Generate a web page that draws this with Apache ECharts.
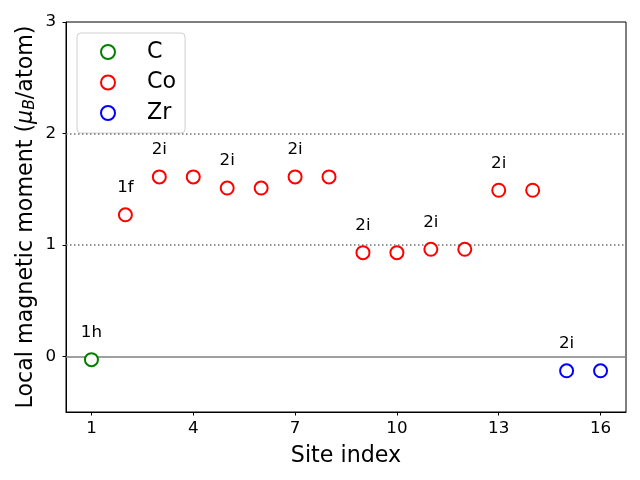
<!DOCTYPE html>
<html>
<head>
<meta charset="utf-8">
<script src="https://cdn.jsdelivr.net/npm/echarts@6/dist/echarts.min.js"></script>
<style>html,body{margin:0;padding:0;background:#fff}#c{width:640px;height:480px}</style>
</head>
<body>
<div id="c"></div>
<script>
var siteIndex = [1, 2, 3, 4, 5, 6, 7, 8, 9, 10, 11, 12, 13, 14, 15, 16];
var moments = [-0.03, 1.27, 1.61, 1.61, 1.51, 1.51, 1.61, 1.61, 0.93, 0.93, 0.96, 0.96, 1.49, 1.49, -0.13, -0.13];
var elements = ['C', 'Co', 'Co', 'Co', 'Co', 'Co', 'Co', 'Co', 'Co', 'Co', 'Co', 'Co', 'Co', 'Co', 'Zr', 'Zr'];
var siteLabels = ['1h', '1f', '2i', '', '2i', '', '2i', '', '2i', '', '2i', '', '2i', '', '2i', ''];
var elementNames = ['C', 'Co', 'Zr'];
var elementColors = ['#008000', '#ff0000', '#0000ff'];
var xTicks = [1, 4, 7, 10, 13, 16];
var yTicks = [0, 1, 2, 3];
var refLines = [1, 2];

var FONT = 'DejaVu Sans';
var SMALL = 16.7, BIG = 22.2;
var chart = echarts.init(document.getElementById('c'), null, {renderer: 'canvas'});

var series = elementNames.map(function (el, k) {
  var data = [];
  for (var i = 0; i < siteIndex.length; i++) {
    if (elements[i] !== el) continue;
    var item = {value: [siteIndex[i], moments[i]]};
    if (siteLabels[i]) {
      item.label = {show: true, formatter: siteLabels[i], position: 'top', distance: 11,
        fontFamily: FONT, fontSize: SMALL, color: '#000'};
    }
    data.push(item);
  }
  var s = {
    name: el, type: 'scatter', data: data, symbol: 'emptyCircle', symbolSize: 13,
    itemStyle: {color: elementColors[k], borderColor: elementColors[k], borderWidth: 1.2, opacity: 1},
    emphasis: {disabled: true}, z: 5
  };
  if (k === 0) {
    s.markLine = {
      silent: true, symbol: ['none', 'none'], label: {show: false},
      data: [{yAxis: 0, lineStyle: {color: '#808080', type: 'solid', width: 1.5}}].concat(
        refLines.map(function (v) { return {yAxis: v, lineStyle: {color: '#707070', type: [1.5, 2.5], width: 1.6}}; })
      )
    };
  }
  return s;
});

chart.setOption({
  animation: false,
  backgroundColor: '#fff',
  grid: {left: 66, right: 14, top: 22, bottom: 68, show: true, borderColor: '#000', borderWidth: 1, backgroundColor: 'transparent'},
  legend: {
    orient: 'vertical', left: 77, top: 33,
    data: elementNames.map(function (n) { return {name: n, icon: 'emptyCircle'}; }),
    itemWidth: 14, itemHeight: 14, itemGap: 8.5,
    itemStyle: {borderWidth: 1.2},
    textStyle: {fontFamily: FONT, fontSize: BIG, color: '#000', lineHeight: 22, padding: [0, 0, 0, 27]},
    borderColor: '#d0d0d0', borderWidth: 1, borderRadius: 4,
    padding: [8, 9, 9, 23], backgroundColor: 'rgba(255,255,255,0.8)'
  },
  xAxis: {
    type: 'value', min: 0.25, max: 16.75,
    name: 'Site index', nameLocation: 'middle', nameGap: 33,
    nameTextStyle: {fontFamily: FONT, fontSize: BIG, color: '#000'},
    axisLine: {show: true, onZero: false, lineStyle: {color: '#000', width: 1}},
    axisTick: {show: true, customValues: xTicks, length: 3.5, lineStyle: {color: '#000'}},
    axisLabel: {customValues: xTicks, fontFamily: FONT, fontSize: SMALL, color: '#000', margin: 8.5},
    splitLine: {show: false}
  },
  yAxis: {
    type: 'value', min: -0.5, max: 3,
    name: '{n|Local magnetic moment (}{i|μ}{s|B}{n|/atom)}', nameLocation: 'middle', nameGap: 28,
    nameMoveOverlap: false,
    nameTextStyle: {fontFamily: FONT, fontSize: BIG, color: '#000',
      rich: {
        n: {fontFamily: FONT, fontSize: BIG, color: '#000'},
        i: {fontFamily: FONT, fontSize: BIG, fontStyle: 'italic', color: '#000'},
        s: {fontFamily: FONT, fontSize: 15.5, fontStyle: 'italic', color: '#000', verticalAlign: 'bottom', padding: [8, 0, 0, 0]}
      }},
    axisLine: {show: true, onZero: false, lineStyle: {color: '#000', width: 1}},
    axisTick: {show: true, customValues: yTicks, length: 3.5, lineStyle: {color: '#000'}},
    axisLabel: {customValues: yTicks, fontFamily: FONT, fontSize: SMALL, color: '#000', margin: 10},
    splitLine: {show: false}
  },
  series: series
});
</script>
</body>
</html>
